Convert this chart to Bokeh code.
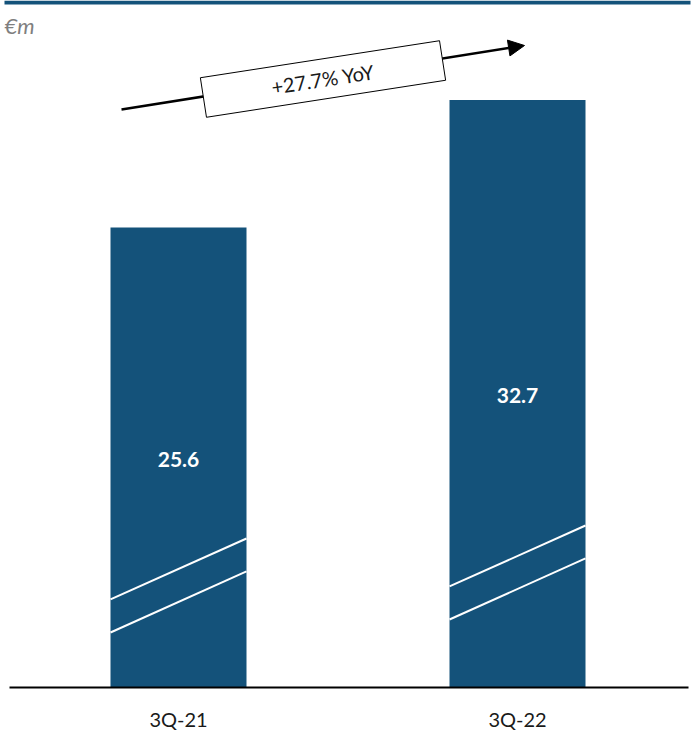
import numpy as np
from bokeh.plotting import figure
from bokeh.models import Range1d, ColumnDataSource, Arrow, NormalHead
from bokeh.core.properties import value
from bokeh.embed import file_html
from bokeh.resources import INLINE

# ---- data ----
categories = ["3Q-21", "3Q-22"]
revenue = [25.6, 32.7]
unit_label = "€m"

BAR_COLOR = "#14527a"
FONT = "Lato"

W, H = 691, 735
# pixel geometry helpers (layout only)
KX = 339.0          # px per category step
KY = 17.97          # px per €m
X0 = -178.0 / KX    # x range start
BASE_PX = 687.0     # baseline pixel row from top
Y0 = -(H - BASE_PX) / KY


def px2x(px):
    return X0 + px / KX


def px2y(py):
    return (BASE_PX - py) / KY


p = figure(width=W, height=H, output_backend="svg", toolbar_location=None,
           x_range=Range1d(X0, X0 + W / KX), y_range=Range1d(Y0, Y0 + H / KY),
           min_border=0, outline_line_color=None)
p.axis.visible = False
p.grid.visible = False
p.background_fill_color = "white"
p.border_fill_color = "white"

xs = list(range(len(categories)))
src = ColumnDataSource(dict(x=xs, top=revenue, cat=categories,
                            lab=[f"{v:.1f}" for v in revenue],
                            mid=[v / 2 for v in revenue]))

# bars
p.vbar(x="x", top="top", bottom=0, width=136 / KX, source=src,
       fill_color=BAR_COLOR, line_color=None)

# axis-break marks (white diagonals), offset per bar
half = 68 / KX
for i, v in enumerate(revenue):
    shift = 0 if i == 0 else 13 / KY
    for lo, hi in [(4.90, 8.29), (3.06, 6.46)]:
        p.line([i - half, i + half], [lo + shift, hi + shift],
               line_color="white", line_width=2)

# value labels
p.text(x="x", y="mid", text="lab", source=src, text_color="white",
       text_font=value(FONT), text_font_style="bold", text_font_size="21px",
       text_align="center", text_baseline="middle", y_offset=2)

# baseline
p.line([px2x(9), px2x(688)], [0, 0], line_color="black", line_width=2)

# category labels
p.text(x="x", y=px2y(718), text="cat", source=src, text_color="#1a1a1a",
       text_font=value(FONT), text_font_size="20px",
       text_align="center", text_baseline="middle")

# top rule
p.quad(left=px2x(4), right=px2x(690), top=px2y(0), bottom=px2y(4),
       fill_color=BAR_COLOR, line_color=None)

# unit label
p.text(x=[px2x(4)], y=[px2y(25)], text=[unit_label], text_color="#7f7f7f",
       text_font=value(FONT), text_font_style="italic", text_font_size="22px",
       text_align="left", text_baseline="middle")

# growth arrow
arrow = Arrow(x_start=px2x(121), y_start=px2y(109), x_end=px2x(524), y_end=px2y(45),
              line_width=2.5, line_color="black",
              end=NormalHead(size=16, fill_color="black", line_color="black"))
arrow.level = "underlay"
p.add_layout(arrow)

yoy = (revenue[1] / revenue[0] - 1) * 100
ang = np.deg2rad(8.8)
p.rect(x=[px2x(322.5)], y=[px2y(78.5)], width=242, height=40,
       width_units="screen", height_units="screen", angle=ang,
       fill_color="white", line_color="black", line_width=1)
p.text(x=[px2x(322.5)], y=[px2y(78.5)], text=[f"+{yoy:.1f}% YoY"], angle=ang,
       text_color="#1a1a1a", text_font=value(FONT), text_font_size="20px",
       text_align="center", text_baseline="middle")

open("out.html", "w").write(file_html(p, INLINE))
